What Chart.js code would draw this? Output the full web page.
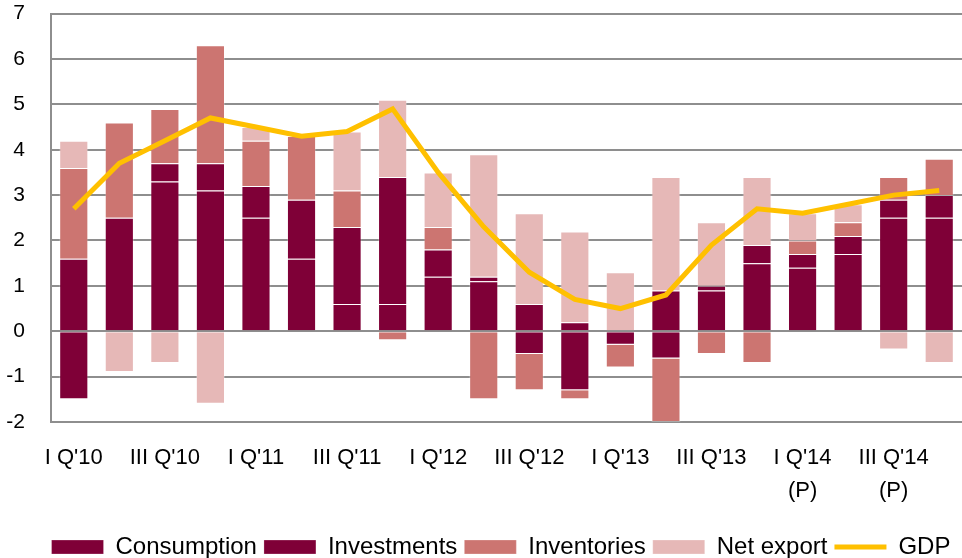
<!DOCTYPE html>
<html>
<head>
<meta charset="utf-8">
<script src="https://cdn.jsdelivr.net/npm/chart.js@4"></script>
<style>
  html, body { margin: 0; padding: 0; background: #fff; }
  #wrap { width: 962px; height: 558px; position: relative; }
</style>
</head>
<body>
<div id="wrap"><canvas id="chart"></canvas></div>
<script>
// quarters, 2014 marked as preliminary
const categories = [
  "I Q'10", "II Q'10", "III Q'10", "IV Q'10",
  "I Q'11", "II Q'11", "III Q'11", "IV Q'11",
  "I Q'12", "II Q'12", "III Q'12", "IV Q'12",
  "I Q'13", "II Q'13", "III Q'13", "IV Q'13",
  ["I Q'14", "(P)"], ["II Q'14", "(P)"], ["III Q'14", "(P)"], ["IV Q'14", "(P)"]
];

const consumption = [1.6, 2.5, 3.3, 3.1, 2.5, 1.6, 0.6, 0.6, 1.2, 1.1, 0.6, 0.2, 0, 0.9, 0.9, 1.5, 1.4, 1.7, 2.5, 2.5];
const investments = [-1.5, 0, 0.4, 0.6, 0.7, 1.3, 1.7, 2.8, 0.6, 0.1, -0.5, -1.3, -0.3, -0.6, 0.1, 0.4, 0.3, 0.4, 0.4, 0.5];
const inventories = [2.0, 2.1, 1.2, 2.6, 1.0, 1.4, 0.8, -0.2, 0.5, -1.5, -0.8, -0.2, -0.5, -1.4, -0.5, -0.7, 0.3, 0.3, 0.5, 0.8];
const netExport = [0.6, -0.9, -0.7, -1.6, 0.3, 0, 1.3, 1.7, 1.2, 2.7, 2.0, 2.0, 1.3, 2.5, 1.4, 1.5, 0.6, 0.4, -0.4, -0.7];
const gdp = [2.7, 3.7, 4.2, 4.7, 4.5, 4.3, 4.4, 4.9, 3.5, 2.3, 1.3, 0.7, 0.5, 0.8, 1.9, 2.7, 2.6, 2.8, 3.0, 3.1];

const yTicks = { min: -2, max: 7, step: 1 };

const FONT = "'Liberation Sans', Arial, sans-serif";
Chart.defaults.font.family = FONT;
Chart.defaults.color = '#000';

function barSet(label, data, color) {
  return {
    type: 'bar', label: label, data: data,
    backgroundColor: color,
    borderColor: 'rgba(255,255,255,0.25)',
    borderWidth: 1,
    categoryPercentage: 1.0,
    barPercentage: 0.64
  };
}

// legend sits a bit right of centre in the original
const legendShift = {
  id: 'legendShift',
  afterLayout(chart) {
    chart.legend.left += 20;
    chart.legend.right += 20;
  }
};

new Chart(document.getElementById('chart'), {
  data: {
    labels: categories,
    datasets: [
      barSet('Consumption', consumption, '#7F0037'),
      barSet('Investments', investments, '#7F0037'),
      barSet('Inventories', inventories, '#CC7571'),
      barSet('Net export', netExport, '#E6B8B7'),
      {
        type: 'line', label: 'GDP', data: gdp,
        borderColor: '#FFC000', backgroundColor: '#FFC000',
        borderWidth: 5, pointRadius: 0, tension: 0,
        order: -1
      }
    ]
  },
  plugins: [legendShift],
  options: {
    responsive: true,
    maintainAspectRatio: false,
    animation: false,
    layout: { padding: { top: 13, right: 0, left: 0, bottom: -11 } },
    plugins: {
      tooltip: { enabled: false },
      legend: {
        position: 'bottom',
        labels: {
          font: { size: 24 },
          usePointStyle: true,
          pointStyleWidth: 52,
          boxHeight: 14,
          padding: 7,
          sort: (a, b) => a.datasetIndex - b.datasetIndex,
          generateLabels: function(chart) {
            const items = Chart.defaults.plugins.legend.labels.generateLabels(chart);
            items.forEach(l => {
              const ds = chart.data.datasets[l.datasetIndex];
              l.pointStyle = ds.type === 'line' ? 'line' : 'rect';
            });
            return items;
          }
        }
      }
    },
    scales: {
      x: {
        stacked: true,
        afterFit: function(scale) { scale.height = 106; },
        grid: { display: false, drawTicks: false },
        border: { display: false },
        ticks: {
          autoSkip: false, maxRotation: 0, minRotation: 0,
          padding: 19,
          font: { size: 22, lineHeight: 1.5 },
          callback: function(value, index) {
            return index % 2 === 0 ? this.getLabelForValue(value) : '';
          }
        }
      },
      y: {
        stacked: true,
        min: yTicks.min, max: yTicks.max,
        afterFit: function(scale) { scale.width = 51; },
        grid: { color: '#8E8E8E', lineWidth: 2, drawTicks: true, tickLength: 25, tickColor: 'rgba(0,0,0,0)' },
        border: { color: '#8E8E8E', width: 2 },
        ticks: { stepSize: yTicks.step, padding: 1, font: { size: 21 } }
      }
    }
  }
});
</script>
</body>
</html>
